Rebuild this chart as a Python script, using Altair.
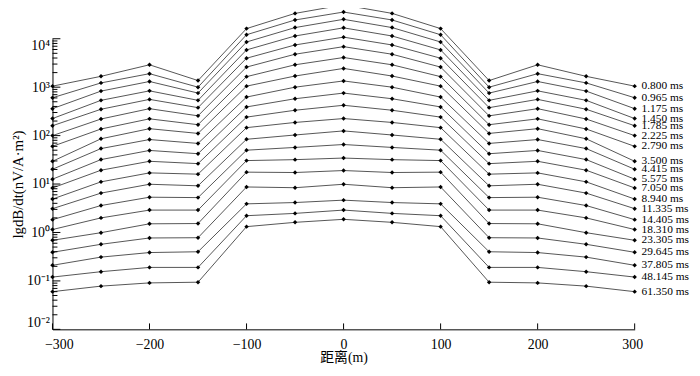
import altair as alt
import pandas as pd

times = ["0.800", "0.965", "1.175", "1.450", "1.785", "2.225", "2.790", "3.500",
         "4.415", "5.575", "7.050", "8.940", "11.335", "14.405", "18.310",
         "23.305", "29.645", "37.805", "48.145", "61.350"]
x_pos = [-300, -250, -200, -150, -100, -50, 0, 50, 100, 150, 200, 250, 300]

v_m300 = [1050, 605, 360, 225, 160, 100, 60, 29.5, 20.2, 12.6, 8.3, 4.9, 3.1, 1.84, 1.15, 0.69, 0.39, 0.21, 0.12, 0.06]
v_m250 = [1675, 1225, 830, 535, 350, 220, 137, 86, 54, 32, 19.3, 11.1, 6.5, 3.6, 2.0, 0.99, 0.57, 0.31, 0.155, 0.078]
v_m200 = [2900, 1900, 1310, 840, 560, 360, 222, 139, 83, 49.4, 29.5, 17.0, 9.9, 5.35, 2.9, 1.51, 0.77, 0.385, 0.19, 0.091]
v_m150 = [1370, 1000, 755, 535, 378, 256, 168, 111, 69, 42.3, 26.4, 16.0, 9.2, 5.25, 2.9, 1.53, 0.78, 0.40, 0.19, 0.094]
v_m100 = [16200, 12100, 8570, 5880, 3960, 2600, 1650, 1050, 625, 391, 241, 146, 84, 50, 30.5, 17.6, 8.7, 3.9, 2.22, 1.32]
v_m50 = [33400, 24400, 17000, 11400, 7440, 4790, 2900, 1700, 1000, 577, 334, 187, 103, 57, 31.9, 17.3, 8.4, 4.15, 2.48, 1.62]
v_0 = [50100, 35600, 25200, 16800, 10800, 6870, 4100, 2440, 1345, 755, 423, 225, 125, 65.5, 34.4, 19.0, 9.9, 4.65, 2.9, 1.87]
v_p50 = [33400, 24400, 17000, 11400, 7440, 4790, 2900, 1700, 1000, 577, 334, 187, 103, 57, 31.9, 17.3, 8.4, 4.15, 2.48, 1.62]
v_p100 = [16200, 12100, 8570, 5880, 3960, 2600, 1650, 1050, 625, 391, 241, 146, 84, 50, 30.5, 17.6, 8.7, 3.9, 2.22, 1.32]
v_p150 = [1370, 1000, 755, 535, 378, 256, 168, 111, 69, 42.3, 26.4, 16.0, 9.2, 5.25, 2.9, 1.53, 0.78, 0.40, 0.19, 0.094]
v_p200 = [2900, 1900, 1310, 840, 560, 360, 222, 139, 83, 49.4, 29.5, 17.0, 9.9, 5.35, 2.9, 1.51, 0.77, 0.385, 0.19, 0.091]
v_p250 = [1675, 1225, 830, 535, 350, 220, 137, 86, 54, 32, 19.3, 11.1, 6.5, 3.6, 2.0, 0.99, 0.57, 0.31, 0.155, 0.078]
v_p300 = [1050, 605, 360, 225, 160, 100, 60, 29.5, 20.2, 12.6, 8.3, 4.9, 3.1, 1.84, 1.15, 0.69, 0.39, 0.21, 0.12, 0.06]

x_ticks = [-300, -200, -100, 0, 100, 200, 300]
y_major = [0.01, 0.1, 1, 10, 100, 1000, 10000]
y_minor = [m * 10.0 ** k for k in range(-2, 4) for m in range(2, 10)]

cols = [v_m300, v_m250, v_m200, v_m150, v_m100, v_m50, v_0,
        v_p50, v_p100, v_p150, v_p200, v_p250, v_p300]
rows = []
for i, t in enumerate(times):
    for j, x in enumerate(x_pos):
        rows.append({"t": t + " ms", "k": i, "x": x, "v": cols[j][i]})
df = pd.DataFrame(rows)
lab = df[df.x == 300]

FONT = "Liberation Serif, Times New Roman, Noto Sans CJK SC"

xs = alt.Scale(domain=[-300, 300], nice=False, zero=False)
ys = alt.Scale(type="log", domain=[0.01, 10000], nice=False)

label_expr = ("datum.value >= 5000 ? '10⁴' : datum.value >= 500 ? '10³' : "
              "datum.value >= 50 ? '10²' : datum.value >= 5 ? '10¹' : "
              "datum.value >= 0.5 ? '10⁰' : datum.value >= 0.05 ? '10⁻¹' : '10⁻²'")

x_axis = alt.Axis(values=x_ticks, ticks=False, grid=False, domainColor="black",
                  domainWidth=1, labelFont=FONT, labelFontSize=14, labelColor="black",
                  labelPadding=8, labelFlush=True, labelFlushOffset=8,
                  titleFont=FONT, titleFontSize=14,
                  titleFontWeight="normal", titleColor="black", titlePadding=0)
y_axis = alt.Axis(values=y_major, labelExpr=label_expr, ticks=False, grid=False,
                  domainColor="black", domainWidth=1, labelFont=FONT,
                  labelFontSize=14, labelColor="black", labelPadding=3,
                  labelFlush=True, titleFont=FONT,
                  titleFontSize=15, titleFontWeight="normal", titleColor="black",
                  titlePadding=1)

X = alt.X("x:Q", scale=xs, axis=x_axis, title="距离(m)")
Y = alt.Y("v:Q", scale=ys, axis=y_axis, title="lgdB/dt(nV/A·m²)")

base = alt.Chart(df)
lines = base.mark_line(color="#555", strokeWidth=1, clip=False).encode(
    x=X, y=Y, detail="t:N", order="x:Q",
)
points = base.mark_point(shape="diamond", filled=True, color="black", size=20,
                         opacity=1, clip=False).encode(x=X, y=Y)
labels = alt.Chart(lab).mark_text(align="left", baseline="middle", dx=7,
                                  font=FONT, fontSize=11.5, color="black").encode(
    x=X, y=Y, text="t:N",
)

major_df = pd.DataFrame({"v": y_major})
minor_df = pd.DataFrame({"v": y_minor})
xt_df = pd.DataFrame({"x": x_ticks})

ymaj = alt.Chart(major_df).mark_rule(color="black", strokeWidth=1).encode(
    y=Y, x=alt.value(0), x2=alt.value(8))
ymin = alt.Chart(minor_df).mark_rule(color="black", strokeWidth=1).encode(
    y=Y, x=alt.value(0), x2=alt.value(5))
xtk = alt.Chart(xt_df).mark_rule(color="black", strokeWidth=1).encode(
    x=X, y=alt.value(294), y2=alt.value(288))

chart = alt.layer(lines, ymaj, ymin, xtk, points, labels).properties(
    width=589, height=294,
    autosize=alt.AutoSizeParams(type="none"),
    padding={"left": 45, "top": 29, "right": 58, "bottom": 37},
    background="white",
).configure_view(stroke=None)

chart.save("out.html", embed_options={"renderer": "svg", "actions": False})
